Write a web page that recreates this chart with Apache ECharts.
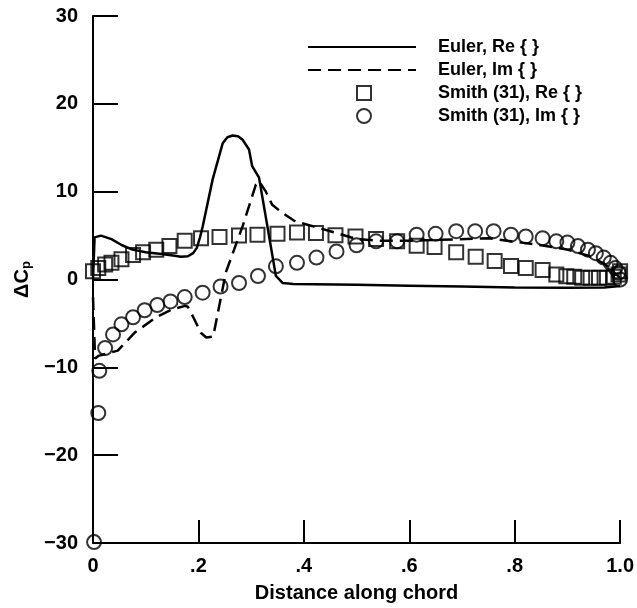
<!DOCTYPE html>
<html>
<head>
<meta charset="utf-8">
<script src="https://cdn.jsdelivr.net/npm/echarts@6/dist/echarts.min.js"></script>
<style>html,body{margin:0;padding:0;background:#fff}#c{width:637px;height:608px}</style>
</head>
<body>
<div id="c"></div>
<script>
// ---- data ----
var eulerReX = [0, 0.003, 0.015, 0.035, 0.055, 0.075, 0.10, 0.13, 0.155, 0.167, 0.18, 0.19, 0.197, 0.203, 0.208, 0.227, 0.246, 0.255, 0.265, 0.275, 0.284, 0.296, 0.302, 0.315, 0.347, 0.36, 0.38, 0.5, 0.6, 0.7, 0.8, 0.9, 0.97, 1.0];
var eulerReY = [0, 4.8, 5.0, 4.6, 3.9, 3.4, 3.1, 2.9, 2.7, 2.6, 2.65, 3.0, 3.6, 4.8, 6.0, 11.4, 15.5, 16.2, 16.4, 16.3, 15.9, 14.8, 12.9, 11.6, 0.4, -0.4, -0.5, -0.6, -0.7, -0.8, -0.9, -0.95, -0.9, -0.75];

var eulerImX = [0, 0.004, 0.01, 0.047, 0.08, 0.12, 0.15, 0.175, 0.18, 0.192, 0.205, 0.215, 0.228, 0.252, 0.284, 0.309, 0.315, 0.328, 0.34, 0.359, 0.384, 0.415, 0.45, 0.5, 0.55, 0.6, 0.65, 0.75, 0.8, 0.85, 0.9, 0.94, 0.97, 1.0];
var eulerImY = [-2, -9, -8.7, -8.1, -6.0, -4.3, -3.4, -3.0, -3.1, -4.5, -6.1, -6.6, -6.5, 0.8, 6.1, 10.8, 11.2, 10.0, 8.5, 7.6, 6.6, 6.1, 5.5, 4.6, 4.4, 4.4, 4.5, 4.7, 4.3, 3.9, 3.4, 2.7, 1.8, 0.2];

var smithReX = [0.0, 0.01, 0.023, 0.035, 0.054, 0.076, 0.095, 0.12, 0.145, 0.174, 0.205, 0.24, 0.277, 0.312, 0.35, 0.387, 0.423, 0.46, 0.498, 0.537, 0.577, 0.614, 0.648, 0.689, 0.726, 0.762, 0.793, 0.821, 0.853, 0.879, 0.898, 0.913, 0.928, 0.944, 0.96, 0.975, 0.988, 0.997, 1.0];
var smithReY = [0.95, 1.3, 1.7, 1.9, 2.3, 2.8, 3.1, 3.4, 3.8, 4.4, 4.7, 4.85, 5.0, 5.1, 5.2, 5.35, 5.3, 5.05, 4.9, 4.6, 4.35, 3.85, 3.7, 3.1, 2.6, 2.1, 1.55, 1.3, 1.08, 0.57, 0.38, 0.3, 0.2, 0.2, 0.2, 0.2, 0.3, 0.57, 0.95];

var smithImX = [0.002, 0.01, 0.012, 0.023, 0.038, 0.054, 0.076, 0.098, 0.122, 0.147, 0.174, 0.208, 0.242, 0.277, 0.313, 0.347, 0.387, 0.424, 0.462, 0.5, 0.537, 0.577, 0.614, 0.65, 0.689, 0.725, 0.76, 0.793, 0.821, 0.853, 0.879, 0.9, 0.92, 0.939, 0.954, 0.969, 0.982, 0.991, 0.997, 1.0];
var smithImY = [-29.9, -15.2, -10.4, -7.8, -6.25, -5.1, -4.3, -3.5, -2.9, -2.5, -2.0, -1.5, -0.8, -0.4, 0.4, 1.5, 1.9, 2.5, 3.2, 3.9, 4.35, 4.35, 5.1, 5.2, 5.5, 5.5, 5.5, 5.1, 4.9, 4.7, 4.35, 4.2, 3.8, 3.4, 3.0, 2.5, 1.9, 1.3, 0.76, 0.0];

var seriesNames = ['Euler, Re { }', 'Euler, Im { }', 'Smith (31), Re { }', 'Smith (31), Im { }'];
var xTicks = [0, 0.2, 0.4, 0.6, 0.8, 1.0];
var xTickLabels = ['0', '.2', '.4', '.6', '.8', '1.0'];
var yTicks = [-30, -20, -10, 0, 10, 20, 30];
var yTickLabels = ['\u221230', '\u221220', '\u221210', '0', '10', '20', '30'];

function pairs(xs, ys) { return xs.map(function (x, i) { return [x, ys[i]]; }); }

var FONT = '"Liberation Sans", Arial, Helvetica, sans-serif';
var chart = echarts.init(document.getElementById('c'), null, { renderer: 'canvas' });
var markerStyle = { color: 'transparent', borderColor: '#000', borderWidth: 2 };
var hiddenSym = { color: 'transparent', borderColor: 'transparent', borderWidth: 0 };
var legendText = { fontFamily: FONT, fontWeight: 'bold', fontSize: 18, lineHeight: 14, color: '#000' };

chart.setOption({
  animation: false,
  backgroundColor: '#fff',
  grid: { left: 93, right: 14, top: 16, bottom: 64, containLabel: false },
  legend: [
    {
      orient: 'vertical', left: 307, top: 38, padding: 0, itemWidth: 108, itemHeight: 14, itemGap: 5,
      data: [
        { name: seriesNames[0], itemStyle: hiddenSym },
        { name: seriesNames[1], itemStyle: hiddenSym }
      ],
      textStyle: Object.assign({ padding: [0, 0, 0, 17] }, legendText),
      selectedMode: false
    },
    {
      orient: 'vertical', left: 356, top: 84, padding: 0, itemWidth: 14, itemHeight: 14, itemGap: 5,
      data: [
        { name: seriesNames[2], icon: 'rect', itemStyle: markerStyle },
        { name: seriesNames[3], icon: 'circle', itemStyle: markerStyle }
      ],
      textStyle: Object.assign({ padding: [0, 0, 0, 62] }, legendText),
      selectedMode: false
    }
  ],
  xAxis: {
    type: 'value', min: 0, max: 1, interval: 0.2,
    name: 'Distance along chord', nameLocation: 'middle', nameGap: 40,
    nameTextStyle: { fontFamily: FONT, fontWeight: 'bold', fontSize: 20, color: '#000' },
    axisLine: { show: true, onZero: false, lineStyle: { color: '#000', width: 2 } },
    axisTick: { show: true, inside: true, length: 23, lineStyle: { color: '#000', width: 2 } },
    axisLabel: {
      margin: 13, fontFamily: FONT, fontWeight: 'bold', fontSize: 20, color: '#000',
      formatter: function (v) {
        for (var i = 0; i < xTicks.length; i++) if (Math.abs(xTicks[i] - v) < 1e-9) return xTickLabels[i];
        return '';
      }
    },
    splitLine: { show: false }
  },
  yAxis: {
    type: 'value', min: -30, max: 30, interval: 10,
    name: '\u0394C{p|p}', nameLocation: 'middle', nameGap: 58, nameRotate: 90,
    nameTextStyle: {
      fontFamily: FONT, fontWeight: 'bold', fontSize: 20, color: '#000',
      rich: { p: { fontFamily: FONT, fontWeight: 'bold', fontSize: 13, color: '#000', verticalAlign: 'bottom', padding: [9, 0, 0, 0] } }
    },
    axisLine: { show: true, onZero: false, lineStyle: { color: '#000', width: 2 } },
    axisTick: { show: true, inside: true, length: 25, lineStyle: { color: '#000', width: 2 } },
    axisLabel: {
      margin: 15, fontFamily: FONT, fontWeight: 'bold', fontSize: 20, color: '#000',
      formatter: function (v) {
        for (var i = 0; i < yTicks.length; i++) if (Math.abs(yTicks[i] - v) < 1e-9) return yTickLabels[i];
        return '';
      }
    },
    splitLine: { show: false }
  },
  series: [
    {
      name: seriesNames[0], type: 'line', data: pairs(eulerReX, eulerReY),
      symbol: 'none', smooth: false, z: 2,
      lineStyle: { color: '#000', width: 2.5, type: 'solid' },
      itemStyle: { color: '#000' }
    },
    {
      name: seriesNames[1], type: 'line', data: pairs(eulerImX, eulerImY),
      symbol: 'none', smooth: false, z: 2,
      lineStyle: { color: '#000', width: 2.5, type: [13, 7] },
      itemStyle: { color: '#000' }
    },
    {
      name: seriesNames[2], type: 'scatter', data: pairs(smithReX, smithReY),
      symbol: 'rect', symbolSize: 14, z: 3,
      itemStyle: markerStyle
    },
    {
      name: seriesNames[3], type: 'scatter', data: pairs(smithImX, smithImY),
      symbol: 'circle', symbolSize: 14, z: 3,
      itemStyle: markerStyle
    }
  ]
});
</script>
</body>
</html>
